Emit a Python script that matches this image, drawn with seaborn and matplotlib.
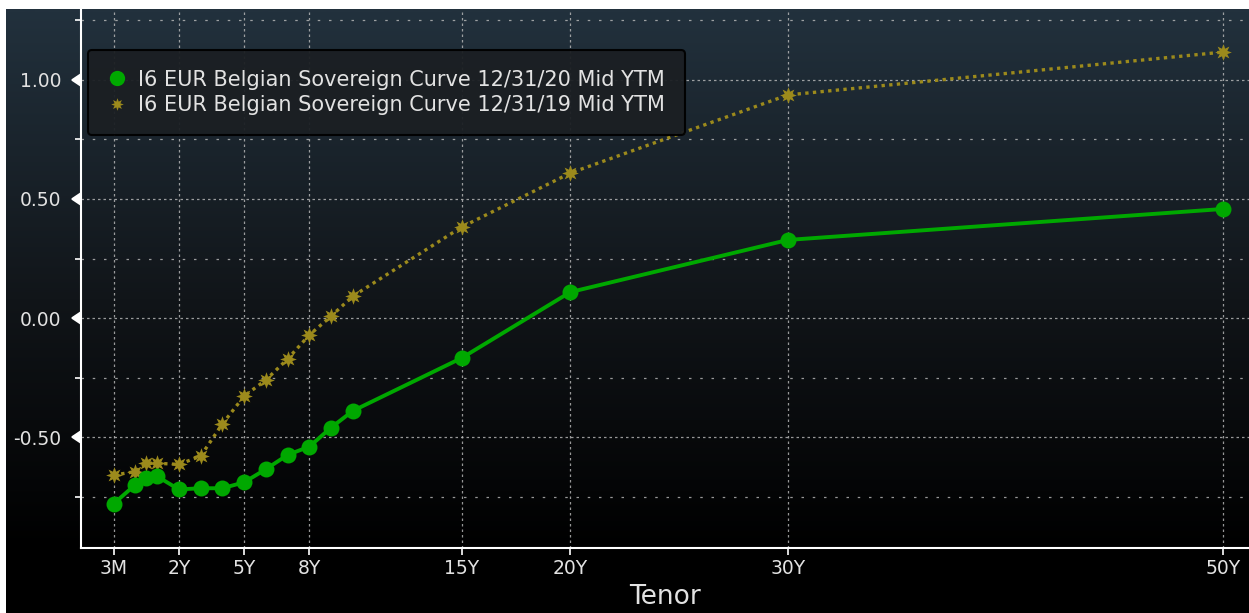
import numpy as np
import pandas as pd
import matplotlib
matplotlib.use("Agg")
import matplotlib.pyplot as plt
import seaborn as sns
from matplotlib.colors import LinearSegmentedColormap
from matplotlib.lines import Line2D
from matplotlib import markers as mmarkers

# ── data ─────────────────────────────────────────────────────────────
tenor_years = [0.25, 0.5, 0.75, 1, 2, 3, 4, 5, 6, 7, 8, 9, 10, 15, 20, 30, 50]
yield_2020 = [-0.78, -0.70, -0.67, -0.665, -0.72, -0.715, -0.715, -0.69, -0.635,
              -0.575, -0.54, -0.46, -0.39, -0.168, 0.109, 0.328, 0.458]
yield_2019 = [-0.66, -0.645, -0.61, -0.61, -0.615, -0.58, -0.445, -0.328, -0.26,
              -0.172, -0.071, 0.008, 0.092, 0.382, 0.609, 0.937, 1.117]
label_2020 = "I6 EUR Belgian Sovereign Curve 12/31/20 Mid YTM"
label_2019 = "I6 EUR Belgian Sovereign Curve 12/31/19 Mid YTM"
tick_years = [0.25, 2, 5, 8, 15, 20, 30, 50]
tick_labels = ["3M", "2Y", "5Y", "8Y", "15Y", "20Y", "30Y", "50Y"]

df20 = pd.DataFrame({"tenor": tenor_years, "ytm": yield_2020})
df19 = pd.DataFrame({"tenor": tenor_years, "ytm": yield_2019})

GREEN = "#00a800"
GOLD = "#9c8a1c"
TXT = "#e2e2e2"

# Bloomberg-style tenor axis: short end stretched, linear in years after 1Y
knots_years = [-1, 0.25, 0.5, 1, 100]
knots_pos = [-6, -1, 0, 1, 100]
fwd = lambda x: np.interp(x, knots_years, knots_pos)
inv = lambda p: np.interp(p, knots_pos, knots_years)

sns.set_style("dark")
plt.rcParams["font.family"] = ["DejaVu Sans"]

fig = plt.figure(figsize=(12.49, 6.13), dpi=100, facecolor="white")

# gradient panel
bg = fig.add_axes([6 / 1249, 0, 1243 / 1249, 604 / 613], zorder=0)
cmap = LinearSegmentedColormap.from_list(
    "bbg", [(0, "#22313d"), (0.48, "#111519"), (0.9, "#000000"), (1, "#000000")])
bg.imshow(np.linspace(0, 1, 300)[:, None], aspect="auto", cmap=cmap, extent=[0, 1, 0, 1])
bg.set_axis_off()

ax = fig.add_axes([81 / 1249, 65 / 613, 1168 / 1249, 539 / 613], zorder=1)
ax.set_facecolor("none")
ax.set_xscale("function", functions=(fwd, inv))

sns.lineplot(data=df19, x="tenor", y="ytm", ax=ax, color=GOLD, linewidth=2.4,
             linestyle=(0, (1, 1.3)), marker=(8, 1, 0), markersize=12,
             markeredgewidth=0, dash_capstyle="butt")
sns.lineplot(data=df20, x="tenor", y="ytm", ax=ax, color=GREEN, linewidth=2.8,
             marker="o", markersize=11.5, markeredgewidth=0)

ax.set_xlim(-0.125, 51.2)
ax.set_ylim(-0.966, 1.298)

ax.set_xticks(tick_years)
ax.set_xticklabels(tick_labels)
ax.set_xticks([], minor=True)
ax.set_yticks([-0.5, 0.0, 0.5, 1.0])
ax.set_yticklabels([f"{v:.2f}" for v in [-0.5, 0.0, 0.5, 1.0]])
ax.set_yticks([-0.75, -0.25, 0.25, 0.75, 1.25], minor=True)

ax.grid(True, which="major", color="#bdbdbd", linewidth=0.9, linestyle=(0, (2, 2.4)), alpha=0.8)
ax.grid(True, which="minor", axis="y", color="#bdbdbd", linewidth=0.9, linestyle=(0, (2, 7)), alpha=0.8)

for side in ["top", "right"]:
    ax.spines[side].set_visible(False)
for side in ["left", "bottom"]:
    ax.spines[side].set_visible(True)
    ax.spines[side].set_color("white")
    ax.spines[side].set_linewidth(1.5)

ax.tick_params(axis="x", which="major", direction="out", length=5, width=1.2,
               colors="white", labelcolor=TXT, labelsize=13.5, pad=3, bottom=True)
ax.tick_params(axis="y", which="major", direction="out", length=11, width=1.2,
               colors="white", labelcolor=TXT, labelsize=13.5, pad=3, left=True)
ax.tick_params(axis="y", which="minor", direction="out", length=4, width=1.2,
               colors="white", left=True)
for t in ax.yaxis.get_major_ticks():
    t.tick1line.set_marker(mmarkers.CARETLEFTBASE)
    t.tick1line.set_markersize(9)

ax.set_xlabel("Tenor", color=TXT, fontsize=19, labelpad=4)
ax.set_ylabel("")

handles = [
    Line2D([], [], color=GREEN, marker="o", markersize=11, linestyle="none", markeredgewidth=0),
    Line2D([], [], color=GOLD, marker=(8, 1, 0), markersize=9, linestyle="none", markeredgewidth=0),
]
leg = ax.legend(handles, [label_2020, label_2019], loc="upper left",
                bbox_to_anchor=(0.006, 0.924), borderaxespad=0, fontsize=15,
                labelcolor=TXT, facecolor="#1b1f23", edgecolor="black",
                framealpha=0.95, fancybox=True, handlelength=0.9, handletextpad=0.55,
                labelspacing=0.25, borderpad=0.95)
leg.get_frame().set_linewidth(1.5)

fig.savefig("out.png", dpi=100, facecolor=fig.get_facecolor())
